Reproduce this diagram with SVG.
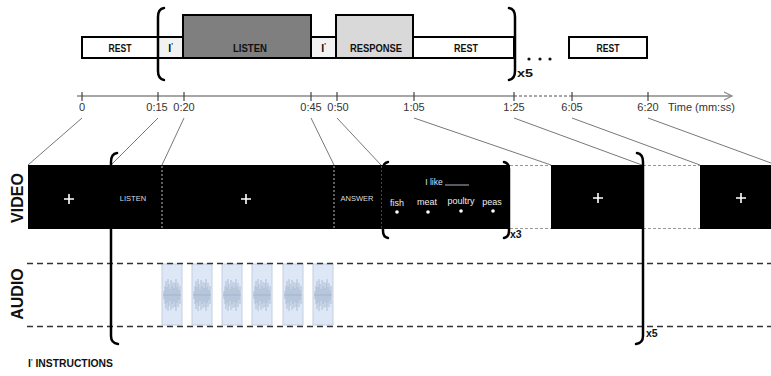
<svg xmlns="http://www.w3.org/2000/svg" width="771" height="376" viewBox="0 0 771 376">
<style>
.box{stroke:#000;stroke-width:2}
.lbl{font-family:"Liberation Sans",Arial,sans-serif;font-weight:bold;font-size:10.5px;fill:#111;text-anchor:middle}
.tl{font-family:"Liberation Sans",Arial,sans-serif;font-size:11px;fill:#333;text-anchor:middle}
.brk{fill:none;stroke:#000;stroke-width:2.5;stroke-linecap:round}
.conn{stroke:#555;stroke-width:0.8;fill:none}
.tick{stroke:#444;stroke-width:1.2}
.vd{stroke:#bbb;stroke-width:1;stroke-dasharray:2,2}
.gd{stroke:#999;stroke-width:1;stroke-dasharray:3,2}
.ad{stroke:#333;stroke-width:1.3;stroke-dasharray:6,4}
.vt{font-family:"Liberation Sans",Arial,sans-serif;text-anchor:middle}
.plus{stroke:#fff;stroke-width:1.6}
.clip{fill:#dde7f6;stroke:#c3cfe3;stroke-width:1}
.wav{stroke:#9fb0cc;stroke-width:0.9;opacity:0.85}
text.st{text-anchor:start}
</style>
<defs>
<g id="wave">
<path class="wav" d="M2,-4V4M3,-9V9M4,-14V14M5,-8V8M6,-16V16M7,-11V11M8,-6V6M9,-15V15M10,-9V9M11,-13V13M12,-7V7M13,-12V12M14,-16V16M15,-8V8M16,-12V12M17,-5V5M18,-9V9"/>
<path class="wav" d="M1,0H19" stroke-width="1.2"/>
</g>
</defs>

<g id="top-timeline">
<g id="rest1"><rect class="box" x="82" y="37" width="76" height="21" fill="#fff"/><text class="lbl" x="120" y="51.5" textLength="23" lengthAdjust="spacingAndGlyphs">REST</text></g>
<g id="instr1"><rect class="box" x="158" y="37" width="25" height="21" fill="#f2f2f2"/><text class="lbl" x="170.5" y="51.5">I<tspan font-size="7" dy="-4">'</tspan></text></g>
<g id="listen"><rect class="box" x="183" y="15" width="128" height="43" fill="#7f7f7f"/><text class="lbl" x="250" y="51.5" textLength="34" lengthAdjust="spacingAndGlyphs">LISTEN</text></g>
<g id="instr2"><rect class="box" x="311" y="37" width="25" height="21" fill="#f2f2f2"/><text class="lbl" x="323.5" y="51.5">I<tspan font-size="7" dy="-4">'</tspan></text></g>
<g id="response"><rect class="box" x="336" y="15" width="77" height="43" fill="#d9d9d9"/><text class="lbl" x="376" y="51.5" textLength="52" lengthAdjust="spacingAndGlyphs">RESPONSE</text></g>
<g id="rest2"><rect class="box" x="413" y="37" width="101" height="21" fill="#fff"/><text class="lbl" x="466" y="51.5" textLength="24" lengthAdjust="spacingAndGlyphs">REST</text></g>
<g id="rest3"><rect class="box" x="569" y="37" width="78" height="21" fill="#fff"/><text class="lbl" x="608" y="51.5" textLength="23" lengthAdjust="spacingAndGlyphs">REST</text></g>
<path class="brk" d="M164,8 Q158,9 158,17 V71 Q158,79 164,80"/>
<path class="brk" d="M509,8 Q515,9 515,17 V71 Q515,79 509,80"/>
<text class="lbl st" x="517" y="77" font-size="12" textLength="16" lengthAdjust="spacingAndGlyphs">x5</text>
<circle cx="529" cy="59" r="1.6" fill="#111"/><circle cx="540" cy="59" r="1.6" fill="#111"/><circle cx="550" cy="59" r="1.6" fill="#111"/>
</g>

<g id="axis">
<path d="M77,96 H514 M572,96 H731" stroke="#8a8a8a" stroke-width="1.5" fill="none"/>
<path d="M514,96 H572" stroke="#8a8a8a" stroke-width="1.3" stroke-dasharray="3,2" fill="none"/>
<path d="M724,92 L732,96 L724,100" stroke="#8a8a8a" stroke-width="1.3" fill="none"/>
<path class="tick" d="M82,92V101M158,92V101M184,92V101M311,92V101M337,92V101M414,92V101M514,92V101M572,92V101M648,92V101"/>
<text class="tl" x="82" y="111">0</text>
<text class="tl" x="157" y="111">0:15</text>
<text class="tl" x="184" y="111">0:20</text>
<text class="tl" x="311" y="111">0:45</text>
<text class="tl" x="338" y="111">0:50</text>
<text class="tl" x="414" y="111">1:05</text>
<text class="tl" x="514" y="111">1:25</text>
<text class="tl" x="572" y="111">6:05</text>
<text class="tl" x="648" y="111">6:20</text>
<text class="tl st" x="668" y="111">Time (mm:ss)</text>
</g>

<g id="connectors">
<line class="conn" x1="82" y1="118" x2="28" y2="165"/>
<line class="conn" x1="158" y1="118" x2="111" y2="165"/>
<line class="conn" x1="184" y1="118" x2="162" y2="165"/>
<line class="conn" x1="311" y1="118" x2="334" y2="165"/>
<line class="conn" x1="337" y1="118" x2="381" y2="165"/>
<line class="conn" x1="414" y1="118" x2="551" y2="165"/>
<line class="conn" x1="514" y1="118" x2="642" y2="165"/>
<line class="conn" x1="572" y1="118" x2="700" y2="165"/>
<line class="conn" x1="648" y1="118" x2="771" y2="163"/>
</g>

<g id="video-track">
<text class="vt" transform="translate(23,198) rotate(-90)" font-size="16" font-weight="bold" fill="#111">VIDEO</text>
<rect x="28" y="165" width="482" height="64" fill="#000"/>
<rect x="551" y="165" width="92" height="64" fill="#000"/>
<rect x="700" y="165" width="71" height="64" fill="#000"/>
<path class="gd" d="M510,165.5H551M510,228.5H551M643,165.5H700M643,228.5H700"/>
<path class="vd" d="M111,166V229M162,166V229M334,166V229M382,166V229"/>
<path class="plus" d="M64,199H74M69,194V204M241,199H251M246,194V204M593,198H603M598,193V203M736,198H746M741,193V203"/>
<text class="vt" x="133" y="201" font-size="7.5" fill="#ddd">LISTEN</text>
<text class="vt" x="357" y="201" font-size="7.5" fill="#ddd">ANSWER</text>
<text class="vt" x="434" y="185" font-size="8.5" fill="#d5e3f5">I like</text>
<line x1="445" y1="185" x2="469" y2="185" stroke="#d5e3f5" stroke-width="0.8"/>
<text class="vt" x="397" y="206" font-size="9" fill="#eee">fish</text>
<text class="vt" x="427" y="205" font-size="9" fill="#eee">meat</text>
<text class="vt" x="461" y="204" font-size="9" fill="#eee">poultry</text>
<text class="vt" x="492" y="205" font-size="9" fill="#eee">peas</text>
<g fill="#fff"><circle cx="397" cy="212" r="1.8"/><circle cx="428" cy="212" r="1.8"/><circle cx="461" cy="211" r="1.8"/><circle cx="493" cy="211" r="1.8"/></g>
<path class="brk" d="M388,162 Q383,163 383,169 V231 Q383,237 388,238"/>
<path class="brk" d="M504,162 Q509,163 509,169 V231 Q509,237 504,238"/>
<text class="lbl st" x="510" y="238" font-size="9">x3</text>
</g>

<g id="audio-track">
<text class="vt" transform="translate(23,294) rotate(-90)" font-size="16" font-weight="bold" fill="#111">AUDIO</text>
<g id="clips">
<rect class="clip" x="162" y="264" width="20" height="61"/><use href="#wave" x="162" y="295"/>
<rect class="clip" x="192" y="264" width="20" height="61"/><use href="#wave" x="192" y="295"/>
<rect class="clip" x="222" y="264" width="20" height="61"/><use href="#wave" x="222" y="295"/>
<rect class="clip" x="252" y="264" width="20" height="61"/><use href="#wave" x="252" y="295"/>
<rect class="clip" x="283" y="264" width="20" height="61"/><use href="#wave" x="283" y="295"/>
<rect class="clip" x="313" y="264" width="20" height="61"/><use href="#wave" x="313" y="295"/>
</g>
<path class="ad" d="M27,263.5H771M27,326.5H771"/>
</g>

<g id="repeat-bracket">
<path class="brk" d="M117,153 Q111,154 111,162 V336 Q111,343 118,344"/>
<path class="brk" d="M637,153 Q643,154 643,162 V336 Q643,343 636,344"/>
<text class="lbl st" x="646" y="337" font-size="9.5">x5</text>
</g>

<text class="lbl st" x="28" y="367" font-size="10" textLength="85" lengthAdjust="spacingAndGlyphs">I<tspan font-size="7" dy="-3">'</tspan><tspan dy="3"> INSTRUCTIONS</tspan></text>
</svg>
